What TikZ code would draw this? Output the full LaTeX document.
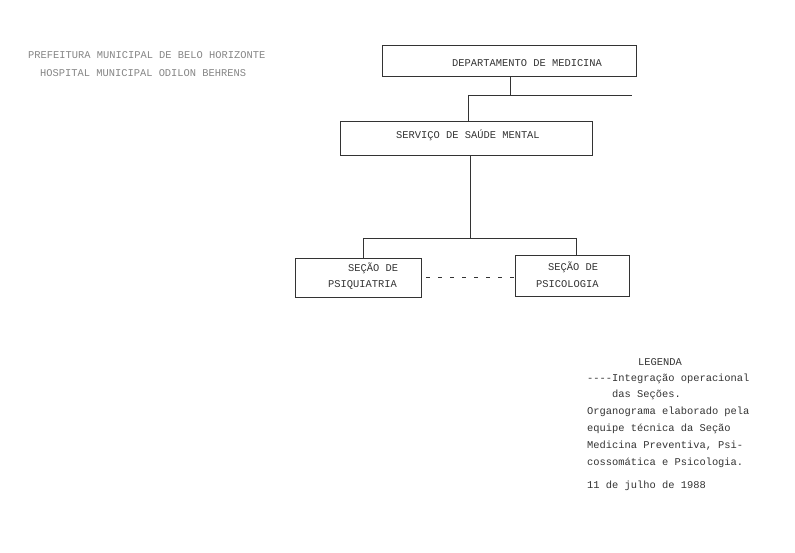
\documentclass[tikz,border=0pt]{standalone}
\usepackage{fontspec}
\setmonofont{Liberation Mono}
\definecolor{ink}{HTML}{333333}
\definecolor{faint}{HTML}{858585}
\begin{document}
\begin{tikzpicture}[x=1pt,y=-1pt,
  box/.style={draw=ink,line width=0.9pt,minimum width=#1,inner sep=0pt},
  txt/.style={anchor=base west,inner sep=0pt,text=ink,font=\ttfamily\fontsize{10.4}{12}\selectfont},
  hdr/.style={txt,text=faint},
  link/.style={draw=ink,line width=0.9pt}]
\useasboundingbox (0,0) rectangle (795,553);
% boxes
\node[box=254pt,minimum height=31pt] (dept) at (509,60.5) {};
\node[box=252pt,minimum height=34pt] (serv) at (466,138) {};
\node[box=126pt,minimum height=39pt] (psiq) at (358,277.5) {};
\node[box=114pt,minimum height=41pt] (psic) at (572,275.5) {};
% header
\node[hdr] (h1) at (28,59) {PREFEITURA MUNICIPAL DE BELO HORIZONTE};
\node[hdr] (h2) at (40,77) {HOSPITAL MUNICIPAL ODILON BEHRENS};
% box texts
\node[txt] (t1) at (452,66.5) {DEPARTAMENTO DE MEDICINA};
\node[txt] (t2) at (396,138.5) {SERVIÇO DE SAÚDE MENTAL};
\node[txt] (t3) at (348,271.5) {SEÇÃO DE};
\node[txt] (t4) at (328,287.5) {PSIQUIATRIA};
\node[txt] (t5) at (548,270.5) {SEÇÃO DE};
\node[txt] (t6) at (536,287.5) {PSICOLOGIA};
% connectors
\coordinate (c1) at (510,95);
\coordinate (c1l) at (468,95);
\coordinate (c1r) at (632,95);
\coordinate (c2) at (470,238);
\coordinate (c2l) at (363,238);
\coordinate (c2r) at (576,238);
\draw[link] (dept.south -| c1) -- (c1);
\draw[link] (c1l) -- (c1r);
\draw[link] (c1l) -- (serv.north -| c1l);
\draw[link] (serv.south -| c2) -- (c2);
\draw[link] (c2l) -- (c2r);
\draw[link] (c2l) -- (psiq.north -| c2l);
\draw[link] (c2r) -- (psic.north -| c2r);
\coordinate (d1) at (426,277);
\coordinate (d2) at (514,277);
\draw[link,line width=0.8pt,dash pattern=on 4pt off 8pt] (d1) -- (d2);
% legend
\node[txt] (l0) at (638,365.5) {LEGENDA};
\node[txt] (l1) at (587,381.5) {----Integração operacional};
\node[txt] (l2) at (612,397.5) {das Seções.};
\node[txt] (l3) at (587,414.5) {Organograma elaborado pela};
\node[txt] (l4) at (587,431.5) {equipe técnica da Seção};
\node[txt] (l5) at (587,448.5) {Medicina Preventiva, Psi-};
\node[txt] (l6) at (587,465.5) {cossomática e Psicologia.};
\node[txt] (l7) at (587,488.5) {11 de julho de 1988};
\end{tikzpicture}
\end{document}
